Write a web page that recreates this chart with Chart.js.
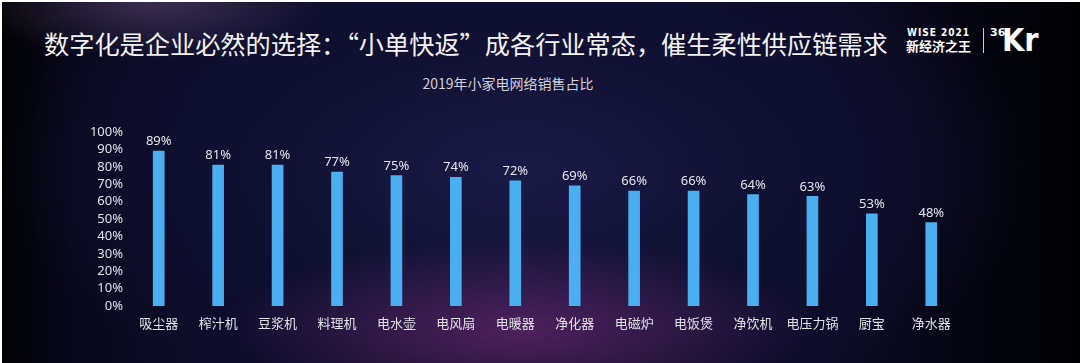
<!DOCTYPE html>
<html>
<head>
<meta charset="utf-8">
<script src="https://cdn.jsdelivr.net/npm/chart.js@4.4.0/dist/chart.umd.min.js"></script>
<style>
  html, body { margin: 0; padding: 0; }
  body {
    width: 1080px; height: 363px; overflow: hidden; position: relative;
    background:
      radial-gradient(ellipse 300px 90px at 520px 330px, rgba(120,45,125,0.6), rgba(120,45,125,0) 100%),
      radial-gradient(ellipse 180px 60px at 150px 0px, rgba(120,90,130,0.45), rgba(120,90,130,0) 100%),
      radial-gradient(ellipse 520px 260px at 520px 170px, #1a1a48 0%, #101032 55%, rgba(8,8,24,0) 100%),
      linear-gradient(90deg, #020205 0px, #07071a 70px, #0c0c26 200px, #0c0c26 820px, #050512 960px, #010104 1080px);
    font-family: "Noto Sans CJK SC", "Noto Sans", sans-serif;
  }
  .frame { position: absolute; left: 0; top: 0; right: 0; bottom: 0;
    border-top: 2px solid #fff; border-left: 2px solid #fff; pointer-events: none; z-index: 5; }
  #title { position: absolute; left: 44px; top: 25px; color: #f2f2f2; font-size: 25.2px;
    line-height: 36px; white-space: nowrap; }
  #sub { position: absolute; left: 0; width: 1016px; top: 73px; text-align: center;
    color: #d0d0d8; font-size: 14px; line-height: 20px; }
  #logo { position: absolute; left: 906px; top: 26px; color: #fff; }
  #logo .a { position: absolute; left: 1px; top: 1px; font-size: 10px; font-weight: bold; letter-spacing: 1px; line-height: 11px; white-space: nowrap; font-family: "DejaVu Sans Condensed", "DejaVu Sans", sans-serif; }
  #logo .b { position: absolute; left: 0; top: 12px; font-size: 13px; font-weight: bold; line-height: 16px; white-space: nowrap; letter-spacing: 0px; }
  #logo .bar { position: absolute; left: 77px; top: 2px; width: 1px; height: 25px; background: #ccc; }
  #logo .c { position: absolute; left: 84px; top: 1px; font-size: 11px; font-weight: bold; line-height: 12px; font-family: "DejaVu Sans", sans-serif; }
  #logo .d { position: absolute; left: 96px; top: -3px; font-size: 32px; font-weight: bold; line-height: 34px; font-family: "DejaVu Sans Condensed", "DejaVu Sans", sans-serif; letter-spacing: 0px; }
  canvas { position: absolute; left: 0; top: 0; }
</style>
</head>
<body>
<div class="frame"></div>
<div id="title">数字化是企业必然的选择：“小单快返”成各行业常态，催生柔性供应链需求</div>
<div id="logo"><div class="a">WISE 2021</div><div class="b">新经济之王</div><div class="bar"></div><div class="c">36</div><div class="d">Kr</div></div>
<div id="sub">2019年小家电网络销售占比</div>
<canvas id="chart" width="1080" height="363"></canvas>
<script>
const categories = ['吸尘器', '榨汁机', '豆浆机', '料理机', '电水壶', '电风扇', '电暖器', '净化器', '电磁炉', '电饭煲', '净饮机', '电压力锅', '厨宝', '净水器'];
const shares = [89, 81, 81, 77, 75, 74, 72, 69, 66, 66, 64, 63, 53, 48];
const yTicks = [0, 10, 20, 30, 40, 50, 60, 70, 80, 90, 100];

const valueLabels = {
  id: 'valueLabels',
  afterDatasetsDraw(chart) {
    const ctx = chart.ctx;
    const meta = chart.getDatasetMeta(0);
    ctx.save();
    ctx.fillStyle = '#e4e4ea';
    ctx.font = '13px "Noto Sans", sans-serif';
    ctx.textAlign = 'center';
    ctx.textBaseline = 'bottom';
    meta.data.forEach((bar, i) => {
      ctx.fillText(shares[i] + '%', bar.x, bar.y - 3);
    });
    ctx.restore();
  }
};

Chart.defaults.font.family = '"Noto Sans CJK SC", "Noto Sans", sans-serif';

new Chart(document.getElementById('chart'), {
  type: 'bar',
  data: {
    labels: categories,
    datasets: [{
      data: shares,
      backgroundColor: '#4aaef0',
      barThickness: 11
    }]
  },
  options: {
    responsive: false,
    animation: false,
    layout: { padding: { left: 0, right: 119, top: 132, bottom: 0 } },
    plugins: { legend: { display: false }, tooltip: { enabled: false } },
    scales: {
      x: {
        grid: { display: false, drawTicks: false },
        border: { display: false },
        ticks: { color: '#e0e0e6', font: { size: 13 }, padding: 9, maxRotation: 0, autoSkip: false },
        afterFit(scale) { scale.height = 57; }
      },
      y: {
        min: 0, max: 100,
        afterBuildTicks(scale) { scale.ticks = yTicks.map(v => ({ value: v })); },
        grid: { display: false, drawTicks: false },
        border: { display: false },
        ticks: {
          color: '#e0e0e6', font: { size: 13, family: '"Noto Sans", sans-serif' }, padding: 6,
          autoSkip: false,
          callback: v => v + '%'
        },
        afterFit(scale) { scale.width = 129; }
      }
    }
  },
  plugins: [valueLabels]
});
</script>
</body>
</html>
